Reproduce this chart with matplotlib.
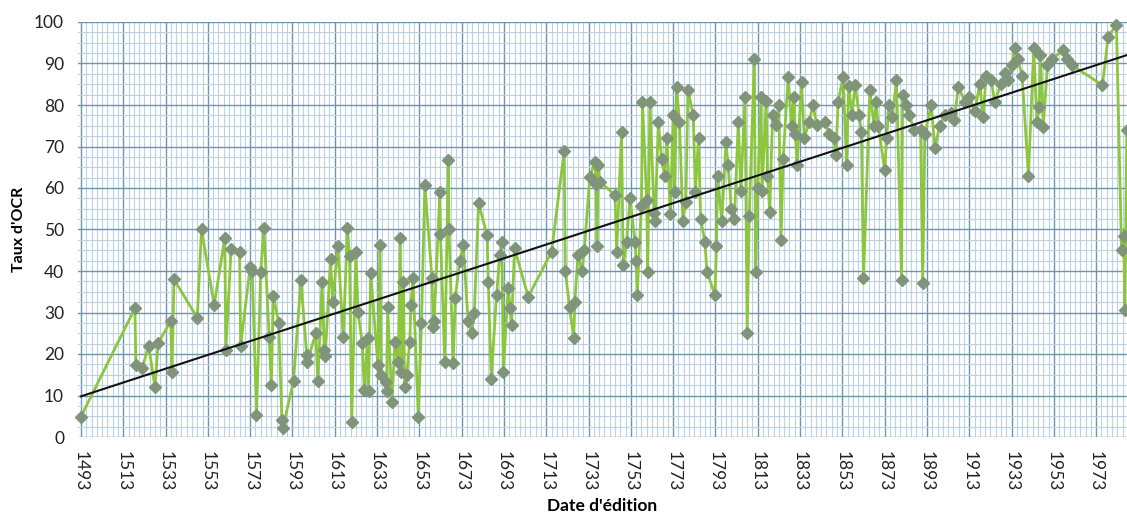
import numpy as np
import matplotlib
matplotlib.use("Agg")
import matplotlib.pyplot as plt
from matplotlib.ticker import MultipleLocator, FixedLocator

# ---- data ----
years = [1493, 1518.5, 1519, 1522, 1525, 1528, 1529.5, 1535.5, 1536, 1537, 1548, 1550, 1556, 1561, 1561.5,
         1564, 1568, 1568.5, 1573, 1574, 1576, 1578, 1579.5, 1582, 1583, 1584, 1586.5, 1588, 1588.5, 1593.5,
         1597, 1599.7, 1600, 1604, 1605, 1607, 1608, 1608.5, 1611, 1612, 1614.5, 1617, 1619, 1620, 1621,
         1623, 1624, 1626, 1627, 1628.5, 1629, 1630, 1633.4, 1634.4, 1635, 1637, 1637.5, 1638, 1640, 1641.5,
         1643, 1644, 1644.5, 1645.5, 1646, 1647, 1648.5, 1649, 1650, 1652.5, 1654, 1655.6, 1659, 1659.5, 1660,
         1662.7, 1663, 1665, 1666.7, 1667, 1669, 1670, 1672, 1673.8, 1676, 1677.7, 1679, 1681, 1685, 1685.6,
         1687, 1689.5, 1691, 1692, 1692.7, 1695, 1696, 1696.6, 1698, 1704.5, 1715.5, 1721.5, 1722, 1724, 1726,
         1726.5, 1728, 1730, 1731, 1733.6, 1736, 1736.5, 1737, 1737.6, 1738.4, 1745.5, 1746.3, 1748.6, 1749.4,
         1751, 1752.6, 1755, 1755.5, 1756, 1758, 1758.5, 1760.5, 1761, 1762, 1764, 1764.5, 1766, 1767.5, 1769,
         1770, 1771.7, 1773, 1773.8, 1774.6, 1776, 1777.6, 1779, 1780, 1782.5, 1783.5, 1785, 1786, 1788, 1789,
         1792.8, 1793.5, 1794, 1796, 1798, 1799, 1800.5, 1802, 1803.8, 1805, 1807, 1808, 1809, 1811.4, 1812,
         1813, 1814.6, 1815, 1817, 1817.6, 1818.7, 1820, 1821.6, 1823, 1824, 1825, 1827.4, 1829, 1830, 1830.8,
         1831.6, 1833.7, 1835, 1837.4, 1839, 1841, 1845, 1846.7, 1849, 1850, 1851, 1853.4, 1855, 1856, 1857.6,
         1859, 1861, 1862, 1863, 1866, 1868, 1869, 1870, 1873, 1874, 1875, 1876.6, 1878.6, 1881, 1881.5, 1883,
         1884.6, 1887, 1890, 1891, 1892, 1895, 1896.8, 1899, 1901.5, 1904.5, 1906, 1907.8, 1911, 1913, 1915.6,
         1918, 1919.5, 1921, 1923.4, 1925, 1928, 1930, 1931.5, 1933, 1934.6, 1936, 1938, 1941, 1943.5, 1945,
         1946, 1946.7, 1948, 1950, 1952, 1957.5, 1959, 1961.5, 1976, 1978.7, 1982.6, 1985, 1986, 1986.6, 1987.5]
ocr_rates = [4.9, 31, 17.3, 16.6, 22, 12, 22.6, 28, 15.6, 38, 28.7, 50, 31.8, 48, 21,
             45.3, 44.6, 22, 41, 40, 5.3, 39.8, 50.4, 24, 12.5, 34, 27.5, 4, 2.2, 13.5,
             37.8, 19.8, 18, 25, 13.5, 37.4, 21, 19.5, 43, 32.6, 46, 24, 50.4, 43.5, 3.7,
             44.6, 30.2, 22.6, 11.3, 23.8, 11, 39.5, 17.3, 46.3, 15, 13.3, 11, 31.4, 8.5, 23,
             18, 48, 15.6, 37.4, 12, 15, 23, 31.8, 38.2, 4.9, 27.4, 60.7, 38.2, 26.5, 28,
             59, 49, 18, 66.7, 50, 17.8, 33.4, 42.3, 46.3, 28, 25, 30, 56.3, 48.7, 37.4,
             14, 34.2, 43.8, 47, 15.7, 36, 31, 27, 45.5, 33.8, 44.6, 69, 40, 31.4, 23.8,
             32.5, 43.8, 40, 45, 62.7, 66.3, 61, 46, 65.5, 61.5, 58.3, 44.6, 73.6, 41.4,
             47, 57.5, 47, 42.5, 34.2, 55.7, 80.8, 57, 39.8, 80.8, 54, 52, 76, 67, 63,
             72, 53.7, 77.6, 59, 84.4, 76, 52, 56.7, 83.6, 77.6, 59, 72, 52.6, 47, 39.8,
             34.2, 46, 63, 52, 71, 65.5, 55, 52.6, 76, 59.3, 82, 25, 53.3, 91.2, 39.8,
             60, 82, 59.3, 81, 63, 54.3, 77.6, 75.3, 80, 47.5, 67, 86.8, 75, 82, 73,
             65.5, 85.6, 72, 76, 80, 75.3, 76, 73, 72, 68, 80.8, 86.8, 65.5, 84.5, 77.6,
             84.8, 77.6, 73.5, 38.2, 83.6, 75, 80.8, 75, 64.3, 72, 80, 77, 86, 37.8, 82.5, 80,
             77.6, 74, 74, 37, 73, 80, 69.6, 75, 77.6, 78, 76.5, 84.4, 80.8, 82, 78.5,
             85, 77, 87, 86, 80.8, 85, 87.6, 86, 89.6, 93.7, 91, 87, 63, 93.7, 76,
             79.5, 92, 74.8, 89.6, 91, 93.3, 91, 89.6, 84.8, 96.5, 99.3, 45, 48.5, 30.6, 74]

trend_years = [1493, 1988]
trend_values = [9.8, 92.1]

x_ticks = [1493, 1513, 1533, 1553, 1573, 1593, 1613, 1633, 1653, 1673, 1693, 1713, 1733,
           1753, 1773, 1793, 1813, 1833, 1853, 1873, 1893, 1913, 1933, 1953, 1973]
y_ticks = [0, 10, 20, 30, 40, 50, 60, 70, 80, 90, 100]

# ---- figure ----
plt.rcParams['font.family'] = ['Lato', 'DejaVu Sans']
fig = plt.figure(figsize=(11.27, 5.13), dpi=100)
ax = fig.add_axes([78 / 1127, 76 / 513, 1 - 78 / 1127, 415 / 513])

ax.set_xlim(1491.6, 1987.6)
ax.set_ylim(0, 100)

ax.xaxis.set_major_locator(FixedLocator(x_ticks))
ax.xaxis.set_minor_locator(FixedLocator(np.arange(1493, 1990, 2.5)))
ax.yaxis.set_major_locator(FixedLocator(y_ticks))
ax.yaxis.set_minor_locator(MultipleLocator(2.5))

ax.grid(which='major', color='#6e95ae', linewidth=1.0)
ax.grid(which='minor', color='#bcd2e2', linewidth=0.8)
ax.set_axisbelow(True)
for s in ax.spines.values():
    s.set_visible(False)

ax.tick_params(axis='both', which='both', length=0)
ax.tick_params(axis='x', which='major', labelsize=12.5, pad=10, labelcolor='#222222')
ax.tick_params(axis='y', which='major', labelsize=12.5, pad=10, labelcolor='#222222')
ax.set_xticklabels([str(t) for t in x_ticks], rotation=270)

ax.plot(years, ocr_rates, color='#8cc63f', linewidth=2.0, marker='D', markersize=6.5,
        markerfacecolor='#7f9479', markeredgecolor='#7f9479', zorder=3, clip_on=False)
ax.plot(trend_years, trend_values, color='#111111', linewidth=1.5, zorder=4)

ax.set_xlabel("Date d'édition", fontsize=12.5, fontweight='bold', labelpad=5)
ax.set_ylabel("Taux d'OCR", fontsize=11.5, fontweight='bold', labelpad=6)

fig.savefig('out.png', dpi=100)
